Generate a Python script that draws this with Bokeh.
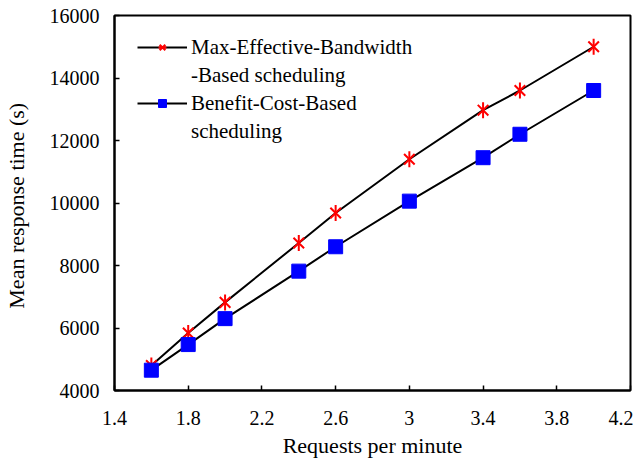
from bokeh.plotting import figure
from bokeh.models import Range1d, FixedTicker, Legend, LegendItem
from bokeh.embed import file_html
from bokeh.resources import INLINE
import math

x_vals = [1.6, 1.8, 2.0, 2.4, 2.6, 3.0, 3.4, 3.6, 4.0]
max_eff = [4800, 5840, 6820, 8720, 9680, 11400, 12970, 13600, 15000]
benefit = [4650, 5470, 6300, 7820, 8600, 10060, 11450, 12200, 13600]
x_ticks = [1.4, 1.8, 2.2, 2.6, 3.0, 3.4, 3.8, 4.2]
x_tick_labels = ["1.4", "1.8", "2.2", "2.6", "3", "3.4", "3.8", "4.2"]
y_ticks = [4000, 6000, 8000, 10000, 12000, 14000, 16000]
label_a = ["Max-Effective-Bandwidth", "-Based scheduling"]
label_b = ["Benefit-Cost-Based", "scheduling"]

FONT = "Liberation Serif"

p = figure(width=633, height=460, output_backend="svg", toolbar_location=None,
           x_range=Range1d(1.4, 4.2), y_range=Range1d(4000, 16000),
           min_border_left=110, min_border_right=3, min_border_top=15, min_border_bottom=67)

p.xgrid.visible = False
p.ygrid.visible = False
p.outline_line_color = "black"
p.outline_line_width = 2
p.background_fill_color = "white"
p.border_fill_color = "white"

r1l = p.line(x_vals, max_eff, line_color="black", line_width=2)
r1x = p.scatter(x_vals, max_eff, marker="x", size=15, line_color="red", line_width=2)
r1d = p.scatter(x_vals, max_eff, marker="dash", size=16, angle=math.pi / 2,
                line_color="red", line_width=2)
r2l = p.line(x_vals, benefit, line_color="black", line_width=2)
r2m = p.scatter(x_vals, benefit, marker="square", size=14, fill_color="blue", line_color="blue")
# invisible renderer used only for the second line of each legend label
blank = p.scatter(x=[], y=[], marker="square", size=1, fill_alpha=0, line_alpha=0)

p.xaxis.ticker = FixedTicker(ticks=x_ticks)
p.xaxis.major_label_overrides = {t: l for t, l in zip(x_ticks, x_tick_labels)}
p.yaxis.ticker = FixedTicker(ticks=y_ticks)

for ax in (p.xaxis[0], p.yaxis[0]):
    ax.axis_line_color = "black"
    ax.axis_line_width = 2
    ax.major_tick_in = 5
    ax.major_tick_out = 0
    ax.major_tick_line_width = 1.5
    ax.minor_tick_in = 0
    ax.minor_tick_out = 0
    ax.major_label_text_font = FONT
    ax.major_label_text_font_size = "20px"
    ax.major_label_text_color = "black"
    ax.axis_label_text_font = FONT
    ax.axis_label_text_font_size = "22px"
    ax.axis_label_text_font_style = "normal"
    ax.axis_label_text_color = "black"

p.xaxis.major_label_standoff = 20
p.yaxis.major_label_standoff = 15
p.xaxis.axis_label = "Requests per minute"
p.yaxis.axis_label = "Mean response time  (s)"
p.xaxis.axis_label_standoff = 5
p.yaxis.axis_label_standoff = 18

legend = Legend(items=[LegendItem(label=label_a[0], renderers=[r1l, r1x, r1d]),
                       LegendItem(label=label_a[1], renderers=[blank]),
                       LegendItem(label=label_b[0], renderers=[r2l, r2m]),
                       LegendItem(label=label_b[1], renderers=[blank])],
                location=(23, 245))
legend.background_fill_alpha = 0
legend.border_line_alpha = 0
legend.label_text_font = FONT
legend.label_text_font_size = "21px"
legend.label_text_color = "black"
legend.label_text_line_height = 1.32
legend.glyph_width = 50
legend.label_standoff = 4
legend.spacing = 0
legend.margin = 0
legend.padding = 0
legend.label_height = 28
legend.glyph_height = 20
p.add_layout(legend)

open("out.html", "w").write(file_html(p, INLINE))
